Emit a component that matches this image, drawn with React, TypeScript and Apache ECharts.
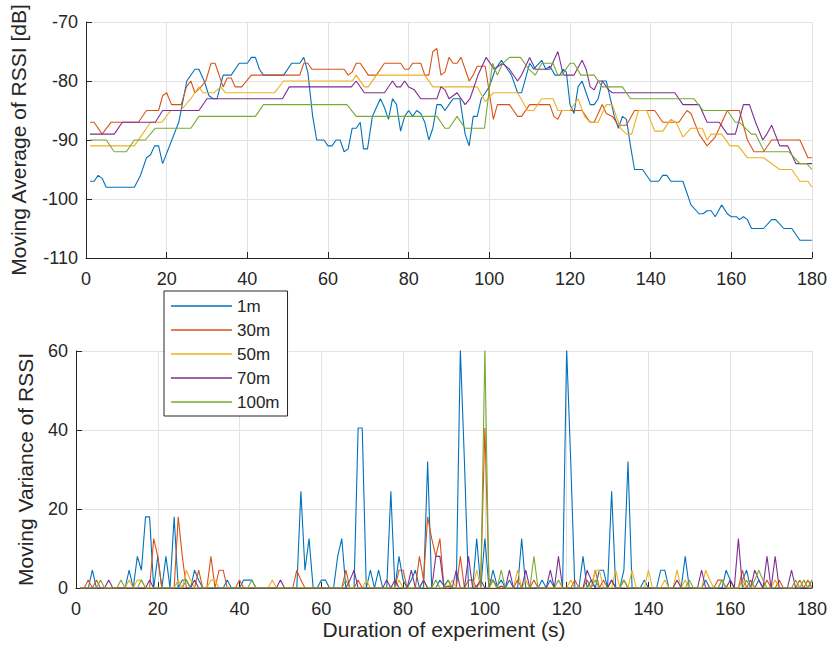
import React, { useEffect, useRef } from "react";
import * as echarts from "echarts";

const seriesNames = ["1m", "30m", "50m", "70m", "100m"];
const colors = ["#0072BD", "#D95319", "#EDB120", "#7E2F8E", "#77AC30"];

const xMin = 0;
const xMax = 180;
const xInterval = 20;
const avgMin = -110;
const avgMax = -70;
const avgInterval = 10;
const varMin = 0;
const varMax = 60;
const varInterval = 20;
const sampleCount = 180;

// Moving average of RSSI: polyline vertices [time (s), dB]
const avg1m: [number, number][] = [
  [1, -97], [2, -97], [3, -96], [4, -96.5], [5, -98], [12, -98], [13.5, -96], [15, -93], [16, -92.5],
  [17, -91], [18, -91], [19, -94], [23, -87], [25, -80], [27, -78], [28, -78], [29.3, -80], [30.5, -82.5],
  [31.5, -83], [32.5, -83], [34, -79], [36, -79], [38, -77], [40, -77], [41, -76], [42, -76], [43, -78],
  [44, -79], [49, -79], [51, -77], [53, -77], [54, -76], [55, -78.5], [56.2, -86], [57.2, -90], [59, -90],
  [60, -91], [61, -91], [62, -90], [63, -90], [64, -92], [65, -91.5], [66, -88], [67, -88], [68, -87],
  [68.8, -91.5], [69.8, -91.5], [71, -86], [72, -84.5], [73, -83], [74, -84.5], [75, -86.5], [76, -83],
  [77, -84], [78, -88.5], [79, -86], [80, -85], [81, -86], [82, -85], [83, -85.5], [84, -87], [85, -90],
  [86, -88], [87, -84], [88, -84], [89, -85], [90, -84], [91, -83], [92.7, -83], [94, -89], [95, -91],
  [96, -86], [97, -86], [98, -83], [99, -82], [100, -81], [101.5, -78], [103, -76.5], [104, -77.5],
  [105.5, -79], [107, -82], [108, -82], [110, -77], [111, -78], [113, -76.5], [114, -78], [115, -77.5],
  [116.3, -79], [117.5, -79], [118.3, -78], [119.1, -78.5], [120, -84], [121, -85.5], [122, -81], [123, -80],
  [124, -82], [125, -84], [126, -84], [127, -83], [128, -80], [129, -80], [130, -83], [131, -86], [132, -88],
  [133, -86], [134, -86.5], [135, -91], [136, -95], [138, -95], [140, -97], [142, -97], [143, -96], [144, -96],
  [145, -97], [148, -97], [150, -101], [152, -102.5], [153, -102.5], [154, -102], [155, -102], [156, -103],
  [157.6, -101], [159, -102.5], [160, -103], [161.3, -103], [162, -103.5], [163, -103], [164, -103.5],
  [165, -105], [168, -105], [170, -103.5], [171, -103.5], [173, -105], [175, -105], [177, -107], [180, -107],
];

const avg30m: [number, number][] = [
  [1, -87], [2, -87], [4, -89], [6.2, -87], [13, -87], [15, -85], [18, -85], [19, -82.5], [20, -82],
  [21.2, -84], [23.6, -84], [24.9, -81], [26, -80], [27, -82], [28.5, -81], [29.7, -80], [31, -77], [32, -77],
  [34, -81], [35, -79.5], [36, -79.5], [37, -81], [38.6, -81], [41, -79], [53, -79], [54, -77], [55, -77],
  [56, -78], [64, -78], [65, -79], [66, -78.5], [67, -77], [68, -77], [70, -79], [72, -79], [74, -77],
  [78, -77], [79, -78], [80, -78], [81, -77], [83, -77], [84, -79], [85, -79], [86, -75], [87, -74.5],
  [88, -79], [89, -78.5], [90, -76], [91, -77], [92, -77], [93, -76], [95, -80], [96, -79], [97, -77.5],
  [99, -77.5], [100, -82], [101, -86.5], [102, -84], [105, -84], [106, -85], [107, -86], [108, -86],
  [110, -84], [115, -84], [116, -86], [117, -86.5], [118, -85], [123, -85], [124, -86], [125, -87],
  [126, -87], [128, -84], [129, -85.5], [130.5, -86], [132, -87.5], [134, -87.5], [136, -85], [141, -85],
  [143, -87], [147, -87], [149, -85], [150, -85.5], [152, -89], [154, -91], [156, -89.5], [157, -88],
  [159, -85], [162, -85], [164, -90], [165.6, -92], [168, -92], [170, -90], [177, -90], [179, -93], [180, -93],
];

const avg50m: [number, number][] = [
  [1, -91], [12, -91], [16, -87], [18.8, -87], [21, -85], [23.5, -85], [26, -83], [28, -81], [29, -82],
  [31.7, -82], [33.4, -81], [34.6, -82], [46.7, -82], [49, -80], [66, -80], [67, -79], [69, -81], [70, -81],
  [72, -79], [84, -79], [86, -81], [97, -81], [99, -83.5], [101, -82], [107, -82], [109.5, -85], [111, -85],
  [113, -83], [115.8, -83], [117, -85], [120, -85], [122, -83], [123.6, -86], [125, -87], [127, -87],
  [129, -84], [130.5, -84], [132.5, -88], [134, -89], [135.3, -89], [137, -85], [139, -85], [141, -88.5],
  [143, -88.5], [145, -86.5], [146.3, -87], [148, -89.5], [150, -88], [152.8, -88], [154, -90], [155, -89],
  [157.6, -89], [159.7, -91], [161.7, -91], [164, -93], [168, -93], [172, -95], [175, -95], [177, -97],
  [179, -97], [180, -98],
];

const avg70m: [number, number][] = [
  [1, -89], [7, -89], [9, -87], [17.2, -87], [19, -85], [28, -85], [30, -83], [48.7, -83], [50.4, -81],
  [65.8, -81], [67, -80], [69, -82], [74, -82], [76, -80], [77, -81], [78, -81], [79, -80], [80, -81],
  [81.4, -81.5], [83, -83], [87, -83], [88, -81], [89, -81.5], [90, -83], [91, -82.5], [92, -82], [94, -84],
  [95.2, -83], [97.2, -79], [99.2, -76], [101.2, -78], [103.3, -77], [105, -78], [107, -80], [108, -79],
  [110, -76], [111.4, -78], [115, -78], [117, -75], [118, -78], [118.5, -79], [121, -79], [123, -76.5],
  [124, -78], [125, -81], [126, -81.5], [127, -80], [128, -80], [129.6, -81.5], [130.5, -82], [146, -82],
  [148, -84], [152, -84], [154, -87], [157, -87], [159, -89], [161, -89], [163, -84], [164.5, -84],
  [166, -87], [167.8, -90], [168.8, -89], [170, -87.5], [172, -91], [174, -91], [176, -94], [180, -94],
];

const avg100m: [number, number][] = [
  [1, -90], [5, -90], [7, -92], [10, -92], [12, -90], [14.7, -90], [17.2, -88], [26, -88], [28, -86],
  [42, -86], [44, -84], [64.7, -84], [67, -86], [87, -86], [89, -88], [90, -88], [92, -86], [94, -88],
  [98.8, -88], [100.8, -77], [102, -79], [103.3, -77], [105, -76], [107.7, -76], [109.8, -78], [111.4, -79],
  [113, -77], [115.8, -77], [117, -79], [118, -79], [120, -77], [121, -77], [122.7, -79], [126, -79],
  [128, -81], [133, -81], [135, -83], [150.7, -83], [153, -85], [159, -85], [161, -87], [162, -87],
  [165, -89], [166, -89], [168.2, -92], [174.3, -92], [177, -94], [178.7, -94], [180, -95],
];

// Moving variance of RSSI: non-zero samples [time (s), value]; all other samples read as 0
const var1m: [number, number][] = [
  [4, 4.5], [13, 4.5], [15, 8], [16, 4.5], [17, 18], [18, 18], [20, 8], [22, 8], [24, 18], [26, 2], [27, 2],
  [29, 4.5], [30, 2], [37, 2], [41, 2], [42, 2], [43, 2], [55, 24.5], [56, 4.5], [57, 12.5], [60, 2], [61, 2],
  [64, 8], [65, 12.5], [69, 40.5], [70, 40.5], [72, 4.5], [74, 4.5], [77, 24.5], [79, 8], [80, 2], [82, 2],
  [83, 4.5], [86, 32], [89, 2], [90, 0.5], [91, 2], [94, 60.5], [95, 32], [98, 12.5], [100, 12.5], [102, 4.5],
  [103, 0.5], [104, 2], [106, 2], [109, 12.5], [114, 2], [116, 2], [120, 60.5], [121, 32], [124, 8], [126, 2],
  [128, 4.5], [129, 4.5], [131, 24.5], [134, 4.5], [135, 32], [139, 2], [143, 4.5], [144, 4.5], [149, 8],
  [154, 2], [159, 4.5], [160, 2], [163, 2], [164, 4.5], [167, 2],
];

const var30m: [number, number][] = [
  [3, 2], [5, 2], [19, 12.5], [20, 8], [25, 18], [26, 8], [30, 4.5], [33, 8], [35, 4.5], [36, 4.5], [40, 2],
  [54, 4.5], [55, 2], [66, 4.5], [69, 2], [79, 4.5], [80, 4.5], [84, 8], [85, 2], [86, 18], [87, 12.5], [88, 8],
  [89, 12.5], [94, 8], [96, 2], [97, 2], [99, 2], [100, 40.5], [101, 2], [102, 2], [108, 2], [112, 2], [122, 2],
  [125, 2], [127, 4.5], [129, 2], [131, 2], [134, 2], [157, 2], [158, 2], [163, 4.5], [165, 2], [169, 2],
  [172, 2], [177, 2], [179, 2],
];

const var50m: [number, number][] = [
  [13, 2], [15, 2], [16, 2], [25, 2], [27, 4.5], [28, 2], [33, 2], [34, 2], [48, 2], [71, 2], [79, 2], [85, 2],
  [92, 2], [98, 4.5], [108, 4.5], [110, 2], [121, 2], [127, 4.5], [128, 4.5], [132, 4.5], [134, 2], [136, 4.5],
  [140, 4.5], [144, 2], [147, 4.5], [149, 2], [154, 4.5], [155, 2], [158, 2], [163, 2], [171, 2], [178, 2],
];

const var70m: [number, number][] = [
  [8, 2], [18, 2], [29, 2], [50, 2], [67, 2], [68, 4.5], [76, 2], [78, 2], [82, 4.5], [85, 2], [88, 8], [89, 8],
  [91, 0.5], [93, 4.5], [96, 8], [98, 0.5], [99, 2], [102, 2], [104, 0.5], [106, 4.5], [110, 4.5], [116, 4.5],
  [118, 8], [125, 4.5], [126, 2], [131, 2], [147, 2], [153, 4.5], [160, 2], [162, 12.5], [166, 4.5], [167, 2],
  [169, 8], [171, 8], [175, 4.5], [180, 2],
];

const var100m: [number, number][] = [
  [6, 2], [11, 2], [16, 2], [27, 2], [43, 2], [66, 2], [88, 2], [91, 2], [100, 60.5], [102, 2], [104, 4.5],
  [112, 8], [118, 2], [127, 2], [134, 2], [150, 2], [158, 2], [164, 2], [166, 2], [167, 4.5], [168, 2],
  [176, 2], [178, 2], [180, 2],
];

const avgData = [avg1m, avg30m, avg50m, avg70m, avg100m];
const varData = [var1m, var30m, var50m, var70m, var100m];

function fullVariance(sparse: [number, number][]): [number, number][] {
  const m = new Map<number, number>(sparse);
  const out: [number, number][] = [];
  for (let t = 1; t <= sampleCount; t++) out.push([t, m.get(t) ?? 0]);
  return out;
}

const FONT = "'Liberation Sans', Arial, Helvetica, sans-serif";
const INK = "#262626";
const GRID = "#e2e2e2";

function xAxisCfg(gridIndex: number) {
  return {
    type: "value",
    gridIndex,
    min: xMin,
    max: xMax,
    interval: xInterval,
    axisLine: { show: true, lineStyle: { color: INK, width: 1 } },
    axisTick: { show: true, inside: true, length: 6, lineStyle: { color: INK } },
    splitLine: { show: true, lineStyle: { color: GRID, width: 1 } },
    axisLabel: { color: INK, fontSize: 18, fontFamily: FONT, margin: 12 },
  };
}

export default function App() {
  const ref = useRef<HTMLDivElement>(null);
  useEffect(() => {
    document.body.style.margin = "0";
    if (!ref.current) return;
    const chart = echarts.init(ref.current, undefined, { renderer: "svg" });
    const series: any[] = [];
    seriesNames.forEach((name, i) => {
      series.push({
        name,
        type: "line",
        xAxisIndex: 0,
        yAxisIndex: 0,
        data: avgData[i],
        showSymbol: false,
        symbol: "none",
        lineStyle: { color: colors[i], width: 1.1 },
        itemStyle: { color: colors[i] },
        emphasis: { disabled: true },
        clip: true,
      });
    });
    seriesNames.forEach((name, i) => {
      series.push({
        name,
        type: "line",
        xAxisIndex: 1,
        yAxisIndex: 1,
        data: fullVariance(varData[i]),
        showSymbol: false,
        symbol: "none",
        lineStyle: { color: colors[i], width: 1.1 },
        itemStyle: { color: colors[i] },
        emphasis: { disabled: true },
        clip: true,
      });
    });
    chart.setOption({
      animation: false,
      backgroundColor: "#ffffff",
      textStyle: { fontFamily: FONT },
      grid: [
        { left: 76, right: 15, top: 22, height: 236 },
        { left: 76, right: 15, top: 351, height: 237 },
      ],
      xAxis: [
        xAxisCfg(0),
        {
          ...xAxisCfg(1),
          name: "Duration of experiment (s)",
          nameLocation: "middle",
          nameGap: 25,
          nameTextStyle: { color: INK, fontSize: 21, fontFamily: FONT },
        },
      ],
      yAxis: [
        {
          type: "value",
          gridIndex: 0,
          min: avgMin,
          max: avgMax,
          interval: avgInterval,
          name: "Moving Average of RSSI [dB]",
          nameLocation: "middle",
          nameRotate: 90,
          nameGap: 57,
          nameTextStyle: { color: INK, fontSize: 21, fontFamily: FONT },
          axisLine: { show: true, lineStyle: { color: INK, width: 1 } },
          axisTick: { show: true, inside: true, length: 6, lineStyle: { color: INK } },
          splitLine: { show: true, lineStyle: { color: GRID, width: 1 } },
          axisLabel: { color: INK, fontSize: 18, fontFamily: FONT, margin: 8 },
        },
        {
          type: "value",
          gridIndex: 1,
          min: varMin,
          max: varMax,
          interval: varInterval,
          name: "Moving Variance of RSSI",
          nameLocation: "middle",
          nameRotate: 90,
          nameGap: 40,
          nameTextStyle: { color: INK, fontSize: 21, fontFamily: FONT },
          axisLine: { show: true, lineStyle: { color: INK, width: 1 } },
          axisTick: { show: true, inside: true, length: 6, lineStyle: { color: INK } },
          splitLine: { show: true, lineStyle: { color: GRID, width: 1 } },
          axisLabel: { color: INK, fontSize: 18, fontFamily: FONT, margin: 8 },
        },
      ],
      legend: {
        show: true,
        orient: "vertical",
        left: 164,
        top: 291,
        data: seriesNames.map((n, i) => ({ name: n, icon: "rect", itemStyle: { color: colors[i] } })),
        itemWidth: 61,
        itemHeight: 1.3,
        itemGap: 4,
        padding: [5, 8, 4, 7],
        backgroundColor: "#ffffff",
        borderColor: INK,
        borderWidth: 1,
        selectedMode: false,
        textStyle: { color: INK, fontSize: 17, fontFamily: FONT, lineHeight: 20 },
      },
      series,
    });
    return () => chart.dispose();
  }, []);
  return <div ref={ref} style={{ width: 830, height: 649 }} />;
}
